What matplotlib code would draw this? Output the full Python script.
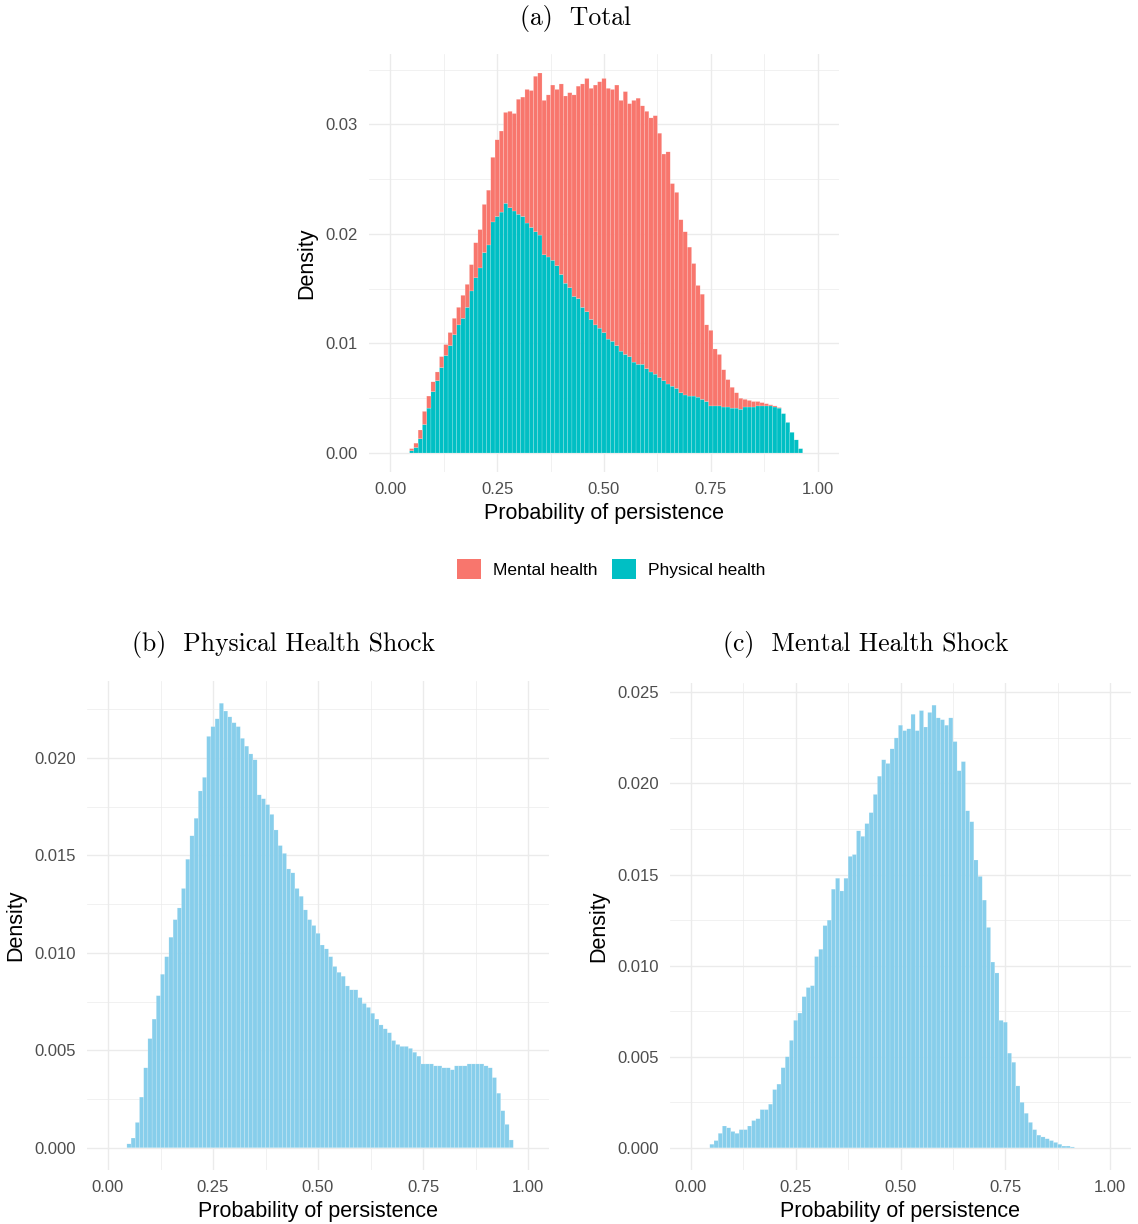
import numpy as np
import matplotlib
matplotlib.use("Agg")
import matplotlib.pyplot as plt
from matplotlib.patches import Patch

# Share of simulated individuals per 0.01-wide bin of persistence probability
bin_start = 0.05
bin_width = 0.01

physical = [
    0.0002, 0.0005, 0.0013, 0.0026, 0.0041, 0.0056, 0.0066, 0.0078, 0.0089, 0.0098,  # 0.05-0.14
    0.0108, 0.0117, 0.0123, 0.0133, 0.0148, 0.0160, 0.0169, 0.0183, 0.0190, 0.0211,  # 0.15-0.24
    0.0216, 0.0220, 0.0228, 0.0224, 0.0221, 0.0218, 0.0216, 0.0210, 0.0206, 0.0202,  # 0.25-0.34
    0.0199, 0.0181, 0.0179, 0.0176, 0.0171, 0.0163, 0.0155, 0.0151, 0.0143, 0.0141,  # 0.35-0.44
    0.0133, 0.0129, 0.0122, 0.0117, 0.0114, 0.0110, 0.0104, 0.0102, 0.0098, 0.0093,  # 0.45-0.54
    0.0090, 0.0088, 0.0083, 0.0081, 0.0081, 0.0077, 0.0074, 0.0072, 0.0069, 0.0066,  # 0.55-0.64
    0.0063, 0.0061, 0.0059, 0.0055, 0.0053, 0.0052, 0.0052, 0.0051, 0.0049, 0.0047,  # 0.65-0.74
    0.0043, 0.0043, 0.0043, 0.0042, 0.0042, 0.0041, 0.0041, 0.0040, 0.0042, 0.0042,  # 0.75-0.84
    0.0042, 0.0043, 0.0043, 0.0043, 0.0043, 0.0042, 0.0041, 0.0036, 0.0028, 0.0019,  # 0.85-0.94
    0.0012, 0.0004,                                                                  # 0.95-0.96
]

mental = [
    0.0002, 0.0004, 0.0008, 0.0012, 0.0011, 0.0009, 0.0008, 0.0010, 0.0010, 0.0012,  # 0.05-0.14
    0.0015, 0.0016, 0.0021, 0.0021, 0.0024, 0.0032, 0.0035, 0.0044, 0.0050, 0.0059,  # 0.15-0.24
    0.0070, 0.0074, 0.0083, 0.0088, 0.0089, 0.0105, 0.0109, 0.0122, 0.0125, 0.0142,  # 0.25-0.34
    0.0148, 0.0141, 0.0148, 0.0160, 0.0161, 0.0174, 0.0171, 0.0178, 0.0184, 0.0194,  # 0.35-0.44
    0.0204, 0.0213, 0.0211, 0.0219, 0.0225, 0.0232, 0.0229, 0.0230, 0.0238, 0.0229,  # 0.45-0.54
    0.0240, 0.0231, 0.0239, 0.0243, 0.0236, 0.0235, 0.0232, 0.0236, 0.0223, 0.0207,  # 0.55-0.64
    0.0212, 0.0185, 0.0179, 0.0158, 0.0149, 0.0136, 0.0121, 0.0102, 0.0096, 0.0070,  # 0.65-0.74
    0.0069, 0.0052, 0.0047, 0.0034, 0.0025, 0.0019, 0.0014, 0.0010, 0.0007, 0.0006,  # 0.75-0.84
    0.0005, 0.0004, 0.0003, 0.0002, 0.0001, 0.0001, 0.00005,                         # 0.85-0.91
]

x_ticks = [0.0, 0.25, 0.5, 0.75, 1.0]
x_ticklabels = ["0.00", "0.25", "0.50", "0.75", "1.00"]
legend_labels = ["Mental health", "Physical health"]
panel_titles = ["(a)  Total", "(b)  Physical Health Shock", "(c)  Mental Health Shock"]

RED = "#F8766D"
TEAL = "#00BFC4"
SKY = "#87CEEB"
EDGE = (1, 1, 1, 0.45)
GRID = "#EBEBEB"
TICK_COL = "#4D4D4D"
SANS = "Liberation Sans"

W, H = 1138, 1224
fig = plt.figure(figsize=(W / 100, H / 100), dpi=100)


def add_panel(left, top, right, bottom):
    return fig.add_axes([left / W, 1 - bottom / H, (right - left) / W, (bottom - top) / H])


def centers(values):
    return bin_start + bin_width * np.arange(len(values))


def style(ax, ymax, ymajor, yfmt):
    ax.set_xlim(-0.05, 1.05)
    ax.set_xticks(x_ticks)
    ax.set_xticklabels(x_ticklabels)
    ax.set_xticks(np.arange(0.125, 1.0, 0.25), minor=True)
    yt = np.arange(0, ymax * 1.05 + 1e-9, ymajor)
    ax.set_yticks(yt)
    ax.set_yticklabels([yfmt.format(v) for v in yt])
    ax.set_yticks(np.append(yt, yt[-1] + ymajor) - ymajor / 2, minor=True)
    ax.set_ylim(-0.05 * ymax, 1.05 * ymax)
    ax.set_axisbelow(True)
    ax.grid(which="major", color=GRID, lw=1.0)
    ax.grid(which="minor", color=GRID, lw=0.5)
    for s in ax.spines.values():
        s.set_visible(False)
    ax.tick_params(which="both", length=0)
    ax.tick_params(axis="y", pad=8)
    ax.tick_params(axis="x", pad=7)
    for lab in ax.get_xticklabels() + ax.get_yticklabels():
        lab.set_fontfamily(SANS)
        lab.set_fontsize(12)
        lab.set_color(TICK_COL)
    ax.set_xlabel("Probability of persistence", family=SANS, fontsize=15.5, labelpad=4.5)
    ax.set_ylabel("Density", family=SANS, fontsize=15.5, labelpad=6)


bar_kw = dict(width=bin_width, edgecolor=EDGE, linewidth=0.25, snap=False)

# (a) stacked: physical at the bottom, mental on top
phys = np.array(physical)
ment = np.pad(np.array(mental), (0, len(physical) - len(mental)))
ax_a = add_panel(369, 54, 839, 472)
ax_a.bar(centers(physical), phys, color=TEAL, **bar_kw)
ax_a.bar(centers(physical), ment, bottom=phys, color=RED, **bar_kw)
style(ax_a, (phys + ment).max(), 0.01, "{:.2f}")

# (b) physical health shock
ax_b = add_panel(87, 681, 549, 1170)
ax_b.bar(centers(physical), physical, color=SKY, **bar_kw)
style(ax_b, max(physical), 0.005, "{:.3f}")

# (c) mental health shock
ax_c = add_panel(670, 683, 1131, 1170)
ax_c.bar(centers(mental), mental, color=SKY, **bar_kw)
style(ax_c, max(mental), 0.005, "{:.3f}")

handles = [Patch(facecolor=RED, edgecolor="none"), Patch(facecolor=TEAL, edgecolor="none")]
fig.legend(handles, legend_labels, loc="center", bbox_to_anchor=(611 / W, 1 - 569 / H),
           ncol=2, frameon=False, handlelength=1.4, handleheight=1.4,
           handletextpad=0.7, columnspacing=0.8, prop={"family": SANS, "size": 12.5})

fig.text(575 / W, 1 - 18 / H, panel_titles[0], family="cmr10", fontsize=18.5, ha="center", va="center")
fig.text(284 / W, 1 - 645 / H, panel_titles[1], family="cmr10", fontsize=18.5, ha="center", va="center")
fig.text(866 / W, 1 - 645 / H, panel_titles[2], family="cmr10", fontsize=18.5, ha="center", va="center")

fig.savefig("out.png", dpi=100)
